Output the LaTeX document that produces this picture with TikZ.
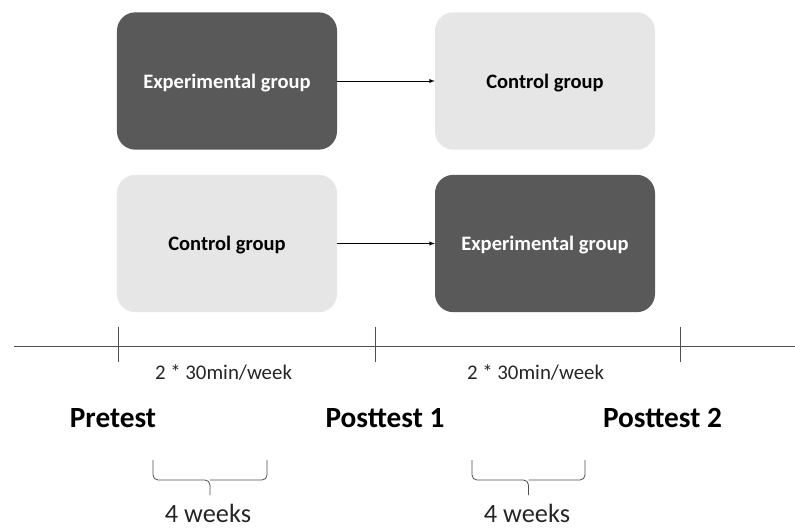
\documentclass[tikz,border=0pt]{standalone}
\usepackage{fontspec}
\setmainfont{Carlito}
\usepackage{tikz}
\usetikzlibrary{arrows}

\definecolor{darkbox}{HTML}{595959}
\definecolor{lightbox}{HTML}{E6E6E6}
\definecolor{axisgray}{HTML}{505050}

\tikzset{
  groupbox/.style={rounded corners=0.55cm,minimum width=6.6cm,minimum height=4.12cm,text depth=-0.1cm,font=\fontsize{17.5}{20}\selectfont\bfseries},
  expbox/.style={groupbox,fill=darkbox,text=white},
  ctlbox/.style={groupbox,fill=lightbox,text=black},
  testlabel/.style={font=\fontsize{25}{30}\selectfont\bfseries},
  freqlabel/.style={font=\fontsize{17.8}{21}\selectfont,text=black!85},
  weeklabel/.style={font=\fontsize{22.5}{27}\selectfont,text=black!85},
  axis/.style={draw=axisgray,line width=0.7pt},
  bracket/.style={draw=axisgray,line width=0.7pt,rounded corners=0.15cm}
}

\begin{document}
\begin{tikzpicture}[x=0.03cm,y=-0.03cm]
\useasboundingbox (0,0) rectangle (795,529);

\node[expbox] (exp1) at (227,81) {Experimental group};
\node[ctlbox] (ctl1) at (545,81) {Control group};
\node[ctlbox] (ctl2) at (227,243.5) {Control group};
\node[expbox] (exp2) at (545,243.5) {Experimental group};
\path [draw,-latex,line width=0.6pt] (exp1) edge (ctl1);
\path [draw,-latex,line width=0.6pt] (ctl2) edge (exp2);

% time line
\coordinate (start) at (14,346);
\coordinate (end) at (795,346);
\draw[axis] (start) -- (end);
\coordinate (t0) at (118,346);
\coordinate (t1) at (375,346);
\coordinate (t2) at (680,346);
\foreach \t in {t0,t1,t2}
  \draw[axis] ([yshift=0.57cm]\t) -- ([yshift=-0.48cm]\t);

\node[freqlabel] (freq1) at (223.5,373) {2 * 30min/week};
\node[freqlabel] (freq2) at (535.5,373) {2 * 30min/week};

\node[testlabel] (pre) at (113,418) {Pretest};
\node[testlabel] (post1) at (385,418) {Posttest 1};
\node[testlabel] (post2) at (662.5,418) {Posttest 2};

% braces
\draw[bracket] (153,460) |- (210,480) -- (210,495);
\draw[bracket] (267,460) |- (210,480);
\draw[bracket] (472,460) |- (528.5,480) -- (528.5,495);
\draw[bracket] (585,460) |- (528.5,480);

\node[weeklabel] (weeks1) at (208,513) {4 weeks};
\node[weeklabel] (weeks2) at (527,513) {4 weeks};
\end{tikzpicture}
\end{document}
